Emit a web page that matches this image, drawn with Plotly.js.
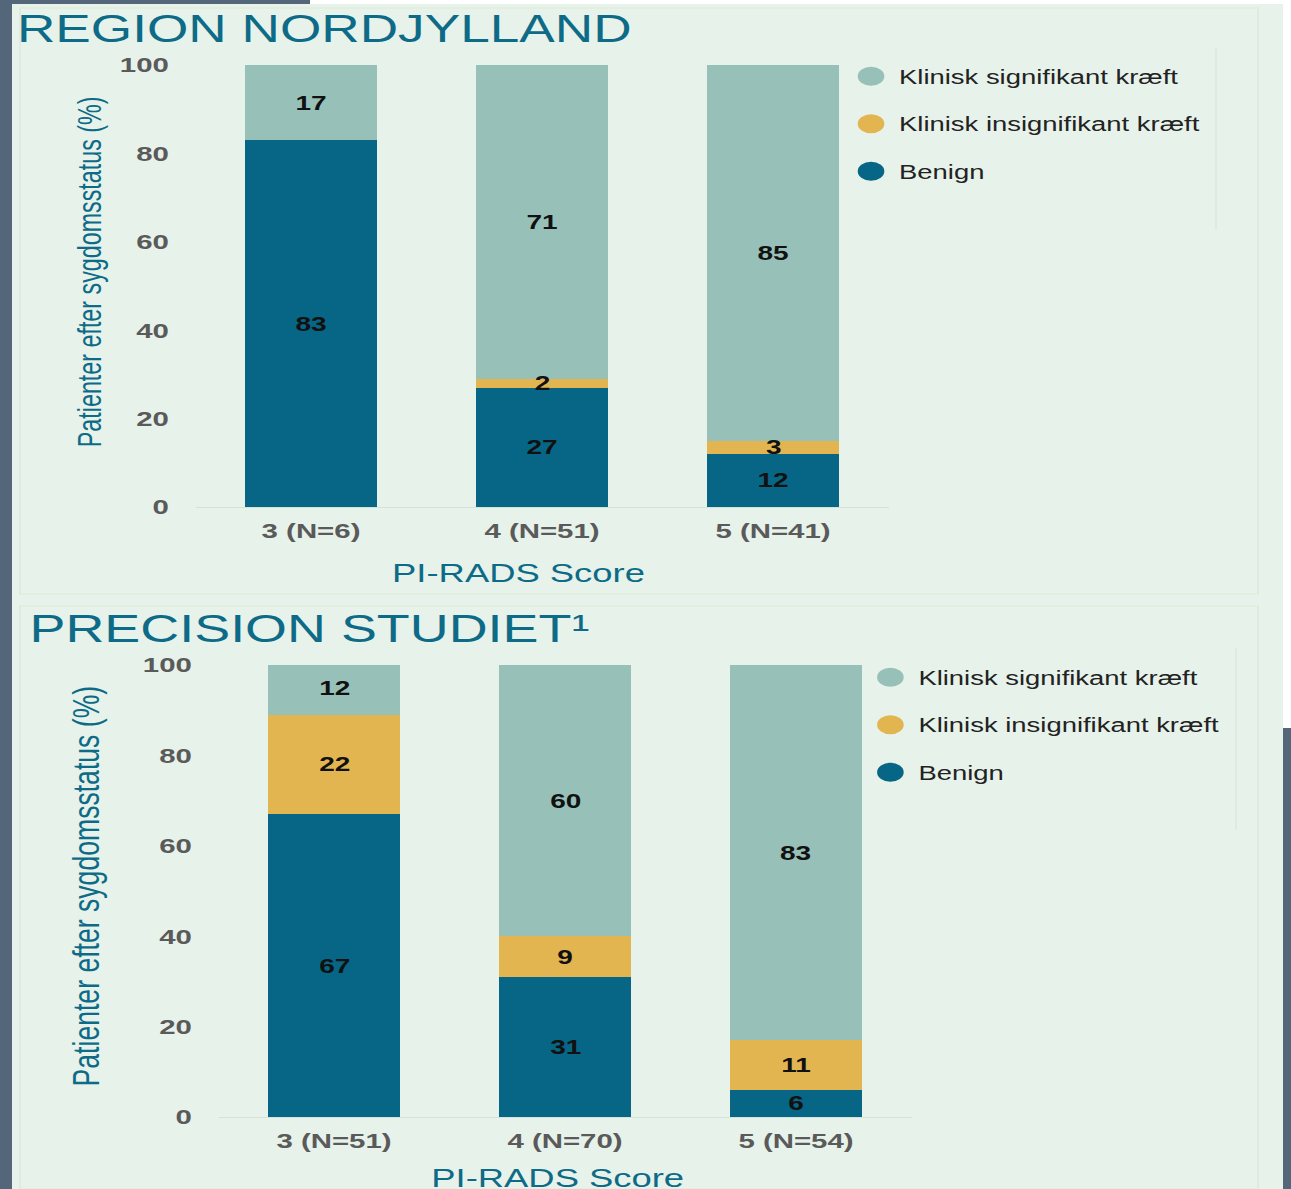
<!DOCTYPE html>
<html>
<head>
<meta charset="utf-8">
<script src="https://cdn.plot.ly/plotly-3.0.1.min.js"></script>
<style>
html,body{margin:0;padding:0;overflow:hidden;background:#e7f2ea;}
#wrap{width:1291px;height:1189px;overflow:hidden;position:relative;}
#chart{width:922px;height:1189px;transform:scaleX(1.40022);transform-origin:0 0;}
</style>
</head>
<body>
<div id="wrap"><div id="chart"></div></div>
<script>
// ---- data ----
const seriesNames = ["Klinisk signifikant kræft", "Klinisk insignifikant kræft", "Benign"];
const seriesColors = ["#97c1b8", "#e3b551", "#076685"];

const nordCategories = ["3 (N=6)", "4 (N=51)", "5 (N=41)"];
const nordBenign = [83, 27, 12];
const nordInsig = [0, 2, 3];
const nordSig = [17, 71, 85];

const precCategories = ["3 (N=51)", "4 (N=70)", "5 (N=54)"];
const precBenign = [67, 31, 6];
const precInsig = [22, 9, 11];
const precSig = [12, 60, 83];

const yTickVals = [0, 20, 40, 60, 80, 100];
const titleTop = "REGION NORDJYLLAND";
const titleBottom = "PRECISION STUDIET¹";
const yTitle = "Patienter efter sygdomsstatus (%)";
const xTitle = "PI-RADS Score";

// ---- build ----
const W = 1291, H = 1189;
const px = v => v / W;
const py = v => 1 - v / H;
const FAM = "Liberation Sans, Arial, sans-serif";

function barTrace(cats, vals, color, xa, ya) {
  return {
    type: "bar", x: cats, y: vals, xaxis: xa, yaxis: ya,
    marker: {color: color, line: {width: 0}},
    hoverinfo: "skip", showlegend: false, cliponaxis: true
  };
}
function legendTrace(i, leg) {
  return {
    type: "scatter", mode: "markers", x: [null], y: [null],
    name: seriesNames[i], legend: leg, legendgroup: leg + i,
    xaxis: leg === "legend" ? "x" : "x2", yaxis: leg === "legend" ? "y" : "y2",
    marker: {symbol: "circle", size: 16, color: seriesColors[i], line: {color: seriesColors[i], width: 3}},
    hoverinfo: "skip"
  };
}

// value labels placed at stack midpoints (computed from data)
function stackLabels(cats, stacks, xa, ya) {
  const out = [];
  cats.forEach((c, i) => {
    let base = 0;
    stacks.forEach(arr => {
      const v = arr[i];
      if (v) {
        out.push({text: String(v), x: c, y: base + v / 2, xref: xa, yref: ya,
          xanchor: "center", yanchor: "middle", showarrow: false,
          font: {family: FAM, size: 20, color: "#111111", weight: "bold"}});
      }
      base += v;
    });
  });
  return out;
}

const data = [
  barTrace(nordCategories, nordBenign, seriesColors[2], "x", "y"),
  barTrace(nordCategories, nordInsig, seriesColors[1], "x", "y"),
  barTrace(nordCategories, nordSig, seriesColors[0], "x", "y"),
  barTrace(precCategories, precBenign, seriesColors[2], "x2", "y2"),
  barTrace(precCategories, precInsig, seriesColors[1], "x2", "y2"),
  barTrace(precCategories, precSig, seriesColors[0], "x2", "y2"),
  legendTrace(0, "legend"), legendTrace(1, "legend"), legendTrace(2, "legend"),
  legendTrace(0, "legend2"), legendTrace(1, "legend2"), legendTrace(2, "legend2")
];

const tickFont = {family: FAM, size: 21, color: "#5a5a5a", weight: "bold"};
const teal = "#0d6b87";

function xAxis(domain, anchor) {
  return {domain: domain, anchor: anchor, type: "category", range: [-0.5, 2.5],
    showline: true, linecolor: "#d4e2d8", linewidth: 1, showgrid: false, zeroline: false,
    ticks: "", tickfont: tickFont, ticklabelstandoff: 5, fixedrange: true};
}
function yAxis(domain, anchor) {
  return {domain: domain, anchor: anchor, range: [0, 100], tickvals: yTickVals,
    showline: false, showgrid: false, zeroline: false, ticks: "",
    tickfont: tickFont, ticklabelstandoff: 18, fixedrange: true};
}

const legendFont = {family: FAM, size: 19.6, color: "#222222"};

const shapes = [
  {type: "rect", xref: "paper", yref: "paper", x0: 0, x1: px(12), y0: 0, y1: 1, fillcolor: "#53667a", line: {width: 0}, layer: "below"},
  {type: "rect", xref: "paper", yref: "paper", x0: 0, x1: px(310), y0: py(4), y1: 1, fillcolor: "#53667a", line: {width: 0}, layer: "below"},
  {type: "rect", xref: "paper", yref: "paper", x0: px(310), x1: 1, y0: py(4), y1: 1, fillcolor: "#ffffff", line: {width: 0}, layer: "below"},
  {type: "rect", xref: "paper", yref: "paper", x0: px(1283), x1: 1, y0: py(728), y1: 1, fillcolor: "#ffffff", line: {width: 0}, layer: "below"},
  {type: "rect", xref: "paper", yref: "paper", x0: px(1283), x1: 1, y0: 0, y1: py(728), fillcolor: "#53667a", line: {width: 0}, layer: "below"},
  {type: "rect", xref: "paper", yref: "paper", x0: px(20), x1: px(1258), y0: py(594), y1: py(8), fillcolor: "rgba(0,0,0,0)", line: {color: "#dce9d6", width: 1}, layer: "below"},
  {type: "rect", xref: "paper", yref: "paper", x0: px(20), x1: px(1258), y0: py(1189), y1: py(606), fillcolor: "rgba(0,0,0,0)", line: {color: "#dce9d6", width: 1}, layer: "below"},
  {type: "line", xref: "paper", yref: "paper", x0: px(1216), x1: px(1216), y0: py(230), y1: py(48), line: {color: "#dce9d6", width: 1}, layer: "below"},
  {type: "line", xref: "paper", yref: "paper", x0: px(1236), x1: px(1236), y0: py(830), y1: py(648), line: {color: "#dce9d6", width: 1}, layer: "below"}
];

const annoFont = (size, color) => ({family: FAM, size: size, color: color});
const annotations = [
  {text: titleTop, xref: "paper", yref: "paper", x: px(14), y: py(29), xanchor: "left", yanchor: "middle", showarrow: false, font: annoFont(38, teal)},
  {text: titleBottom, xref: "paper", yref: "paper", x: px(27), y: py(628), xanchor: "left", yanchor: "middle", showarrow: false, font: annoFont(38.5, teal)},
  {text: yTitle, xref: "paper", yref: "paper", x: px(90), y: py(272), xanchor: "center", yanchor: "middle", textangle: -90, showarrow: false, font: annoFont(23.3, teal)},
  {text: yTitle, xref: "paper", yref: "paper", x: px(86), y: py(886), xanchor: "center", yanchor: "middle", textangle: -90, showarrow: false, font: annoFont(26.6, teal)},
  {text: xTitle, xref: "paper", yref: "paper", x: px(519), y: py(573), xanchor: "center", yanchor: "middle", showarrow: false, font: annoFont(26, teal)},
  {text: xTitle, xref: "paper", yref: "paper", x: px(558), y: py(1178), xanchor: "center", yanchor: "middle", showarrow: false, font: annoFont(26, teal)}
].concat(
  stackLabels(nordCategories, [nordBenign, nordInsig, nordSig], "x", "y"),
  stackLabels(precCategories, [precBenign, precInsig, precSig], "x2", "y2")
);

const layout = {
  width: 922, height: 1189,
  margin: {l: 0, r: 0, t: 0, b: 0},
  paper_bgcolor: "#e7f2ea", plot_bgcolor: "rgba(0,0,0,0)",
  barmode: "stack", bargap: 0.43,
  font: {family: FAM},
  xaxis: xAxis([px(195.5), px(888.5)], "y"),
  yaxis: yAxis([py(507), py(65)], "x"),
  xaxis2: xAxis([px(218.5), px(911.5)], "y2"),
  yaxis2: yAxis([py(1117), py(665)], "x2"),
  legend: {x: 0.653, y: py(57), xanchor: "left", yanchor: "top", bgcolor: "rgba(0,0,0,0)",
    font: legendFont, traceorder: "grouped", tracegroupgap: 19, itemclick: false},
  legend2: {x: 0.668, y: py(658), xanchor: "left", yanchor: "top", bgcolor: "rgba(0,0,0,0)",
    font: legendFont, traceorder: "grouped", tracegroupgap: 19, itemclick: false},
  shapes: shapes,
  annotations: annotations,
  showlegend: true
};

Plotly.newPlot("chart", data, layout, {displayModeBar: false, staticPlot: true});
</script>
</body>
</html>
